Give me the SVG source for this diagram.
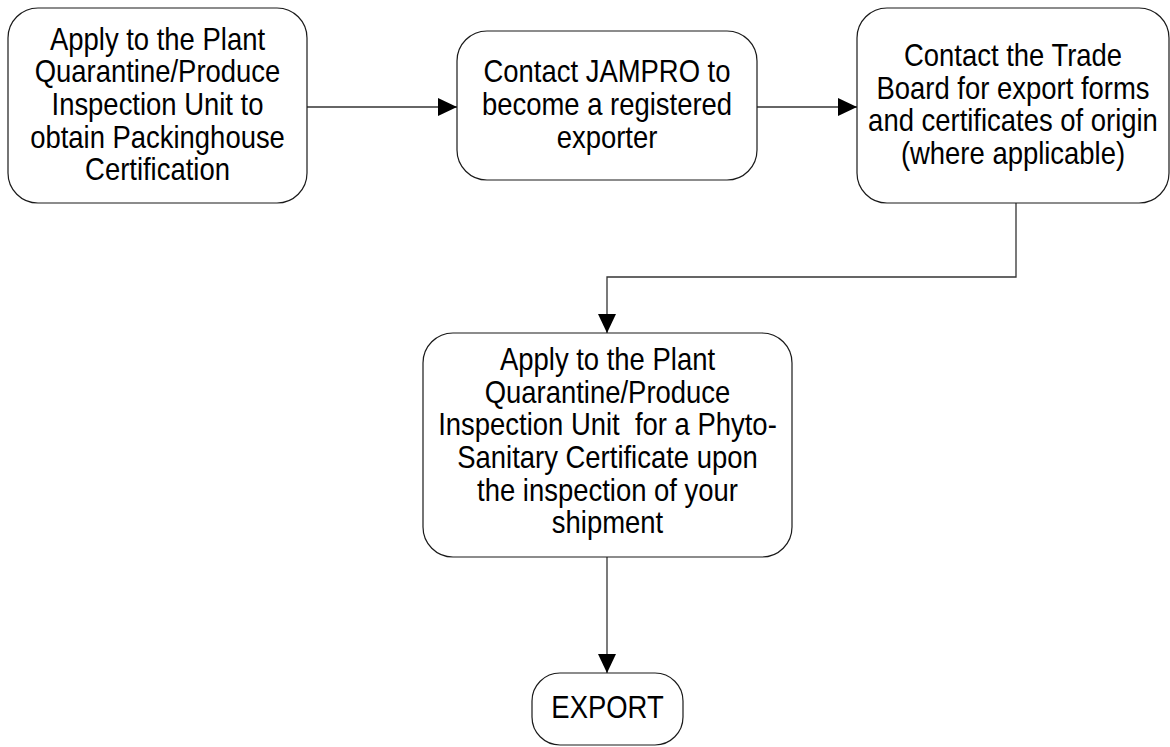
<svg xmlns="http://www.w3.org/2000/svg" width="1170" height="747" viewBox="0 0 1170 747">
<style>
.box{fill:#ffffff;stroke:#1a1a1a;stroke-width:1.2}
.lbl{font-family:"Liberation Sans",Arial,sans-serif;font-size:30.5px;fill:#000;text-anchor:middle;white-space:pre}
.con{fill:none;stroke:#333;stroke-width:1.3}
</style>
<defs>
<marker id="arr" markerUnits="userSpaceOnUse" markerWidth="20" markerHeight="20" refX="19" refY="9" orient="auto">
<path d="M0,0 L19,9 L0,18 z" fill="#000"/>
</marker>
</defs>
<rect width="1170" height="747" fill="#ffffff"/>
<g id="connectors">
<path class="con" d="M307,107 L457,107" marker-end="url(#arr)"/>
<path class="con" d="M757,107 L857,107" marker-end="url(#arr)"/>
<path class="con" d="M1016,203 L1016,277 L607,277 L607,333" marker-end="url(#arr)"/>
<path class="con" d="M607,557 L607,673" marker-end="url(#arr)"/>
</g>
<g id="node1">
<rect class="box" x="8" y="8" width="299" height="195" rx="30" ry="30"/>
<text class="lbl" transform="translate(157.5 0) scale(0.9 1)"><tspan x="0" y="49.7">Apply to the Plant</tspan><tspan x="0" y="82.4">Quarantine/Produce</tspan><tspan x="0" y="115.1">Inspection Unit to</tspan><tspan x="0" y="147.8">obtain Packinghouse</tspan><tspan x="0" y="180.5">Certification</tspan></text>
</g>
<g id="node2">
<rect class="box" x="457" y="31" width="300" height="149" rx="30" ry="30"/>
<text class="lbl" transform="translate(607 0) scale(0.9 1)"><tspan x="0" y="82.4">Contact JAMPRO to</tspan><tspan x="0" y="115.1">become a registered</tspan><tspan x="0" y="147.8">exporter</tspan></text>
</g>
<g id="node3">
<rect class="box" x="857" y="8" width="312" height="195" rx="30" ry="30"/>
<text class="lbl" transform="translate(1013 0) scale(0.9 1)"><tspan x="0" y="66">Contact the Trade</tspan><tspan x="0" y="98.7">Board for export forms</tspan><tspan x="0" y="131.4">and certificates of origin</tspan><tspan x="0" y="164.1">(where applicable)</tspan></text>
</g>
<g id="node4">
<rect class="box" x="423" y="333" width="369" height="224" rx="30" ry="30"/>
<text class="lbl" transform="translate(607.5 0) scale(0.9 1)"><tspan x="0" y="370">Apply to the Plant</tspan><tspan x="0" y="402.7">Quarantine/Produce</tspan><tspan x="0" y="435.4">Inspection Unit  for a Phyto-</tspan><tspan x="0" y="468.1">Sanitary Certificate upon</tspan><tspan x="0" y="500.8">the inspection of your</tspan><tspan x="0" y="533.5">shipment</tspan></text>
</g>
<g id="node5">
<rect class="box" x="532" y="673" width="151" height="72" rx="28" ry="28"/>
<text class="lbl" transform="translate(607.5 0) scale(0.9 1)" x="0" y="718">EXPORT</text>
</g>
</svg>
